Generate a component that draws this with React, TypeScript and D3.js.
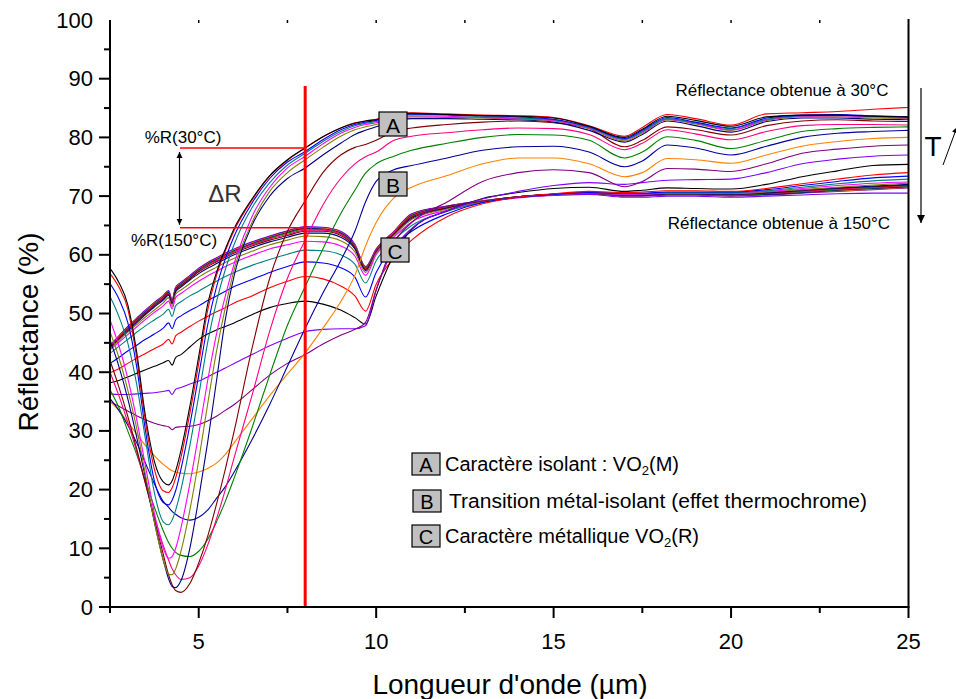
import React from "react";
import * as d3 from "d3";

// Wavelength grid (µm)
const wavelengths = [2.5, 2.75, 3, 3.25, 3.5, 3.75, 4, 4.15, 4.25, 4.35, 4.5, 4.75, 5, 5.25, 5.5, 5.75, 6, 6.5, 7, 7.5, 8, 8.5, 9, 9.4, 9.7, 10, 10.5, 11, 12, 13, 14, 15, 16, 17, 17.5, 18.2, 19, 20, 21, 22, 23, 24, 25];

// Reflectance (%) per temperature step (30°C -> 150°C)
const s01 = [57.7, 55.3, 51.5, 43.5, 32.5, 24.8, 21.3, 20.8, 21.5, 23.2, 26.7, 34.2, 42.7, 51.5, 57, 61, 64.5, 69.5, 73.5, 76.2, 78.2, 80.1, 81.6, 82.4, 82.8, 83, 83.9, 84.1, 83.9, 83.7, 83.6, 83.3, 81.9, 80, 81.4, 83.6, 82.9, 81.9, 83.5, 83.8, 83.8, 83.6, 83.5];
const s02 = [56.8, 54.5, 50.8, 42.5, 31.5, 23.5, 19.8, 19.5, 20.3, 22, 25.5, 33, 41.5, 50.5, 56.5, 60.7, 64.2, 69.3, 73.4, 76.1, 78.2, 80.1, 81.6, 82.5, 82.8, 83.1, 84, 84.2, 84, 83.8, 83.7, 83.4, 82, 80.2, 81.7, 83.9, 83.2, 82.1, 84, 84.2, 84.4, 84.8, 85.1];
const s03 = [55.1, 52.5, 48.5, 41, 30, 21.5, 17.8, 17.4, 18.2, 19.8, 23.5, 31, 39.5, 48, 54.5, 59.3, 63.2, 68.8, 73, 75.8, 77.6, 79.6, 81.3, 82.2, 82.6, 82.9, 83.8, 84, 83.9, 83.7, 83.5, 83.1, 81.8, 79.8, 81.2, 83.4, 82.6, 81.6, 83.3, 83.8, 83.9, 83.7, 83.5];
const s04 = [52.9, 49.5, 45, 38, 28.5, 19.5, 14.5, 14, 14.8, 16.5, 20, 27.5, 36, 45, 52, 57.5, 61.8, 68, 72.3, 75.3, 77.3, 79.3, 81, 82, 82.4, 82.7, 83.6, 83.9, 83.8, 83.5, 83.3, 83, 81.7, 79.7, 81, 83.2, 82.5, 81.5, 83.1, 83.7, 83.8, 83.6, 83.4];
const s05 = [48.9, 44.5, 39, 32, 24, 16, 10, 8.3, 8.6, 10, 13.5, 21, 29.5, 38.5, 46.5, 53, 58.5, 66.5, 71.5, 74.8, 76.8, 78.9, 80.7, 81.7, 82.2, 82.5, 83.4, 83.7, 83.6, 83.4, 83.2, 82.9, 81.6, 79.6, 80.9, 83.1, 82.4, 81.3, 83, 83.6, 83.7, 83.5, 83.3];
const s06 = [46.9, 42.5, 37, 30.5, 22.5, 14.5, 8, 5.6, 5.5, 6.5, 9.5, 16.5, 25, 34.5, 43.5, 51, 57.5, 65.5, 70.8, 74, 76.2, 78.3, 80.2, 81.3, 81.8, 82.2, 83.2, 83.5, 83.4, 83.3, 83.1, 82.8, 81.5, 79.4, 80.7, 83, 82.3, 81.2, 82.9, 83.5, 83.5, 83.3, 83.2];
const s07 = [45.5, 41, 35.5, 29, 22, 14.5, 8, 4.8, 3.5, 3.3, 4.5, 10, 18.5, 28, 38.5, 49, 56.5, 65, 70, 73, 74.8, 77, 79, 80.5, 81.2, 81.8, 82.8, 83.2, 83.2, 83.1, 83, 82.6, 81.2, 79.2, 80.5, 82.8, 82, 80.9, 82.7, 83.3, 83.3, 83.1, 83];
const s08 = [42, 37.5, 32.5, 27, 21, 15, 9, 5.5, 3.8, 2.8, 2.5, 4, 7.5, 12, 17.5, 23.5, 30, 44, 56, 64, 69.2, 74, 77, 78.3, 78.8, 79.5, 81, 81.6, 82.2, 82.6, 82.8, 82.5, 81.5, 78.4, 79.5, 81.8, 81.3, 80.4, 82, 82.8, 83, 82.8, 82.7];
const s09 = [40, 36, 31.5, 26.5, 21, 15.5, 10.5, 8, 6.5, 5.5, 4.7, 5, 7, 10.5, 15, 20, 25.5, 36, 47, 56, 62.5, 68.5, 73, 75.5, 76.7, 77.5, 79.5, 80.2, 80.8, 81.3, 81.6, 81.5, 80.5, 77.9, 79, 81.3, 80.6, 79.6, 81, 82, 82.2, 82.2, 82.1];
const s10 = [37, 34, 30, 26, 21.5, 17, 13, 11, 10, 9.3, 8.8, 8.6, 9.5, 11.5, 14.5, 18, 22, 30.5, 39.5, 48, 54.6, 61, 67, 71, 73.9, 75.5, 76.8, 77.8, 79, 80, 80.5, 80.4, 79.5, 76.5, 77.5, 80.1, 79.5, 78.1, 79.5, 81, 81.5, 81.7, 81.8];
const s11 = [35.5, 33.5, 31, 28, 24.5, 21, 18, 17, 16.3, 15.8, 15.2, 14.8, 15.3, 16.5, 18.5, 20.5, 23, 28.5, 34.5, 41, 47.5, 53.5, 59, 64, 69, 72.5, 74.5, 75.2, 76.5, 77.8, 78.4, 78.5, 77.5, 75, 76, 78.7, 78.2, 77, 78.5, 80, 80.7, 81, 81.2];
const s12 = [35, 33.5, 31.5, 29.5, 27.5, 25.8, 24.3, 23.6, 23.2, 23, 22.8, 22.7, 23, 23.6, 24.5, 26, 28, 32, 36, 39.7, 43.3, 47.5, 52, 56.5, 61.5, 65.5, 69.7, 71.5, 73.5, 75.5, 76.5, 76.5, 75.5, 73.3, 74, 76.4, 76.2, 75.6, 77, 78.5, 79.3, 79.8, 80];
const s13 = [35, 34.2, 33.4, 32.6, 31.9, 31.3, 30.9, 30.7, 30.2, 30.6, 30.7, 30.8, 31.1, 31.7, 32.5, 33.5, 34.5, 37, 39.5, 41.5, 43, 44.8, 46.3, 47.3, 48.5, 54, 62, 65.5, 69, 72.5, 74, 74.5, 74, 71.6, 72.5, 74.7, 74.6, 74.2, 75.5, 77.3, 78, 78.5, 78.7];
const s14 = [36.3, 36.2, 36.2, 36.3, 36.4, 36.5, 36.7, 36.9, 36.2, 37.1, 37.4, 38, 38.5, 39.2, 40, 40.7, 41.5, 43, 44.5, 45.8, 46.9, 47.3, 47.4, 47.4, 47.9, 54, 61, 64.5, 67.5, 69.5, 70.8, 71.8, 72.3, 72, 72.3, 72.7, 72.8, 72.9, 74, 75.5, 76.3, 76.8, 77];
const s15 = [38.2, 38.6, 39.2, 39.8, 40.4, 41, 41.6, 42, 41.2, 42.5, 43, 44.3, 45.6, 46.5, 47.2, 47.8, 48.4, 49.8, 51, 51.7, 52.1, 51.6, 50.6, 49.3, 48.2, 53, 60, 64.3, 67.5, 69.6, 70.6, 71.3, 71.5, 70.8, 71, 71.4, 71.3, 71.2, 72, 73.3, 74.3, 75.2, 75.4];
const s16 = [39.9, 40.6, 41.5, 42.4, 43.2, 44, 44.8, 45.6, 44.8, 46.2, 46.8, 47.8, 48.7, 49.5, 50.3, 51, 51.8, 53, 54.4, 55.5, 56.3, 55.9, 54.7, 53, 50.4, 55, 59.5, 62.5, 66.5, 68.7, 69.8, 70.4, 70.8, 70.6, 70.7, 70.9, 70.9, 70.8, 71.3, 72.1, 72.9, 73.6, 74];
const s17 = [41.5, 42.5, 43.6, 44.6, 45.6, 46.5, 47.5, 48.4, 47.4, 48.9, 49.6, 50.5, 51.3, 52.2, 53, 53.8, 54.6, 55.8, 57, 58, 58.8, 58.6, 57.8, 56.2, 52.8, 57, 61.5, 64, 67, 68.9, 69.8, 70.3, 70.6, 70.5, 70.5, 70.7, 70.7, 70.7, 71.1, 71.8, 72.5, 73.1, 73.4];
const s18 = [43.2, 44.4, 45.6, 46.8, 47.9, 48.9, 49.9, 50.7, 49.5, 51.3, 52, 53, 53.8, 54.7, 55.5, 56.3, 57, 58.2, 59.2, 60.1, 60.8, 60.7, 60, 58.4, 55.2, 59, 62.5, 65, 67.4, 68.9, 69.8, 70.3, 70.6, 70.4, 70.4, 70.6, 70.6, 70.6, 70.9, 71.5, 72.1, 72.6, 72.9];
const s19 = [43.8, 45.1, 46.4, 47.7, 49, 50.2, 51.3, 52.1, 50.8, 52.7, 53.4, 54.5, 55.5, 56.4, 57.2, 58, 58.7, 59.9, 61, 61.7, 62.3, 62.2, 61.5, 59.8, 56.5, 60, 63, 65.6, 67.6, 68.9, 69.7, 70.2, 70.5, 70.3, 70.3, 70.5, 70.5, 70.5, 70.8, 71.3, 71.8, 72.2, 72.4];
const s20 = [44, 45.4, 46.8, 48.1, 49.4, 50.6, 51.8, 52.7, 51.2, 53.3, 54, 55.1, 56.2, 57.1, 57.9, 58.7, 59.4, 60.6, 61.7, 62.5, 63.2, 63.1, 62.4, 60.5, 57, 60.3, 63.3, 66, 67.8, 69, 69.8, 70.2, 70.5, 70.3, 70.3, 70.5, 70.5, 70.4, 70.7, 71.1, 71.5, 71.9, 72.2];
const s21 = [44.1, 45.6, 47, 48.4, 49.8, 51.1, 52.3, 53.1, 51.6, 53.7, 54.5, 55.7, 56.8, 57.7, 58.5, 59.3, 60, 61.2, 62.2, 63, 63.7, 63.7, 63, 61, 57.3, 60.4, 63.4, 66.2, 67.9, 69, 69.8, 70.2, 70.5, 70.2, 70.2, 70.4, 70.4, 70.3, 70.6, 71, 71.4, 71.7, 72];
const s22 = [44.2, 45.7, 47.2, 48.6, 50, 51.3, 52.5, 53.3, 51.8, 53.9, 54.7, 55.9, 57.1, 58, 58.8, 59.6, 60.3, 61.5, 62.5, 63.3, 64, 64, 63.3, 61.2, 57.5, 60.5, 63.5, 66.4, 68, 69.1, 69.9, 70.3, 70.5, 70.2, 70.2, 70.4, 70.4, 70.3, 70.5, 70.9, 71.3, 71.6, 71.9];
const s23 = [44.2, 45.8, 47.3, 48.7, 50.1, 51.4, 52.6, 53.4, 51.9, 54, 54.8, 56, 57.2, 58.2, 59, 59.8, 60.5, 61.7, 62.7, 63.5, 64.2, 64.2, 63.5, 61.3, 57.6, 60.6, 63.6, 66.5, 68.1, 69.1, 69.9, 70.3, 70.5, 70.2, 70.2, 70.4, 70.4, 70.3, 70.5, 70.8, 71.2, 71.5, 71.8];
const s24 = [44.3, 45.9, 47.4, 48.8, 50.2, 51.5, 52.7, 53.5, 52, 54.1, 54.9, 56.1, 57.3, 58.3, 59.1, 59.9, 60.6, 61.8, 62.8, 63.7, 64.4, 64.3, 63.6, 61.4, 57.7, 60.6, 63.6, 66.6, 68.1, 69.1, 69.9, 70.3, 70.5, 70.1, 70.1, 70.3, 70.3, 70.2, 70.4, 70.7, 71.1, 71.4, 71.7];
const s25 = [44.3, 45.9, 47.5, 48.9, 50.3, 51.6, 52.8, 53.6, 52.1, 54.2, 55, 56.2, 57.4, 58.4, 59.2, 60, 60.7, 61.9, 62.9, 63.8, 64.5, 64.4, 63.7, 61.5, 57.7, 60.7, 63.7, 66.7, 68.2, 69.1, 69.9, 70.3, 70.5, 70.1, 70.1, 70.3, 70.3, 70.2, 70.3, 70.6, 71, 71.3, 71.6];
const s26 = [44.4, 46, 47.6, 49, 50.4, 51.7, 52.9, 53.7, 52.2, 54.3, 55.1, 56.3, 57.5, 58.5, 59.3, 60.1, 60.8, 62, 63, 63.9, 64.6, 64.5, 63.8, 61.6, 57.8, 60.8, 63.8, 66.8, 68.2, 69.2, 69.9, 70.3, 70.5, 70.1, 70.1, 70.3, 70.3, 70.1, 70.3, 70.6, 70.9, 71.2, 71.5];
const s27 = [44.5, 46.1, 47.7, 49.1, 50.5, 51.8, 53, 53.8, 52.3, 54.4, 55.2, 56.4, 57.6, 58.6, 59.4, 60.2, 60.9, 62.1, 63.1, 64, 64.7, 64.6, 63.9, 61.7, 57.9, 60.9, 63.9, 66.9, 68.3, 69.2, 69.9, 70.3, 70.5, 70, 70, 70.2, 70.2, 70, 70.2, 70.5, 70.8, 71.1, 71.4];
const s28 = [44.6, 46.2, 47.8, 49.2, 50.6, 51.9, 53.1, 53.9, 52.4, 54.5, 55.3, 56.5, 57.7, 58.7, 59.5, 60.3, 61, 62.2, 63.2, 64.1, 64.8, 64.7, 64, 61.8, 58, 61, 64, 67, 68.3, 69.2, 69.8, 70.1, 70.3, 69.8, 69.8, 70, 70, 69.8, 70, 70.2, 70.4, 70.5, 70.5];

const seriesList = [s01, s02, s03, s04, s05, s06, s07, s08, s09, s10, s11, s12, s13, s14, s15, s16, s17, s18, s19, s20, s21, s22, s23, s24, s25, s26, s27, s28];

const palette = ["#000000", "#FF0000", "#0000FF", "#008080", "#FF00FF", "#808000", "#000080", "#800000", "#FF0080", "#008000", "#0000A0", "#FF8000", "#800080", "#8000FF"];

const xTicksMajor = [5, 10, 15, 20, 25];
const xTicksMinor = [2.5, 7.5, 12.5, 17.5, 22.5];
const yTicksMajor = [0, 10, 20, 30, 40, 50, 60, 70, 80, 90];
const yTicksMinor = [5, 15, 25, 35, 45, 55, 65, 75, 85, 95];
const yLabels = [0, 10, 20, 30, 40, 50, 60, 70, 80, 90, 100];

const markerWavelength = 8;
const r30 = 78.2;
const r150 = 64.6;

const FONT = "'Liberation Sans', Arial, Helvetica, sans-serif";

export default function App() {
  const W = 956, H = 699;
  const x = d3.scaleLinear().domain([2.5, 25]).range([110, 908.5]);
  const y = d3.scaleLinear().domain([0, 100]).range([607, 20]);

  const line = d3
    .line<[number, number]>()
    .x((d) => x(d[0]))
    .y((d) => y(d[1]))
    .curve(d3.curveMonotoneX);

  const paths = seriesList.map((s, i) => {
    const pts: [number, number][] = [];
    s.forEach((v, j) => {
      if (wavelengths[j] !== undefined) pts.push([wavelengths[j], v]);
    });
    return { d: line(pts) || "", color: palette[i % palette.length], i };
  });

  const xm = x(markerWavelength);
  const arrowX = 179.5;

  const letterBox = (bx: number, by: number, letter: string, w = 28, h = 24, fs = 21) => (
    <g>
      <rect x={bx} y={by} width={w} height={h} fill="#C0C0C0" stroke="#000" strokeWidth={1.2} />
      <text x={bx + w / 2} y={by + h / 2 + 1} textAnchor="middle" dominantBaseline="central" fontSize={fs} fontFamily={FONT} fill="#000">
        {letter}
      </text>
    </g>
  );

  return (
    <svg width={W} height={H} style={{ position: "absolute", left: 0, top: 0, background: "#fff" }} xmlns="http://www.w3.org/2000/svg">
      <defs>
        <marker id="ah" viewBox="0 0 10 10" refX="10" refY="5" markerWidth="6" markerHeight="9" orient="auto-start-reverse" markerUnits="userSpaceOnUse">
          <path d="M0,0 L10,5 L0,10 z" fill="#000" />
        </marker>
        <marker id="ahBig" viewBox="0 0 10 10" refX="10" refY="5" markerWidth="16" markerHeight="8" orient="auto" markerUnits="userSpaceOnUse">
          <path d="M0,0 L10,5 L0,10 z" fill="#000" />
        </marker>
        <marker id="ahSmall" viewBox="0 0 10 10" refX="10" refY="5" markerWidth="9" markerHeight="6" orient="auto" markerUnits="userSpaceOnUse">
          <path d="M0,0 L10,5 L0,10 z" fill="#000" />
        </marker>
        <clipPath id="plot">
          <rect x={110} y={20} width={798.5} height={587} />
        </clipPath>
      </defs>

      {/* data curves */}
      <g clipPath="url(#plot)" fill="none">
        {paths
          .slice()
          .reverse()
          .map((p) => (
            <path key={p.i} d={p.d} stroke={p.color} strokeWidth={1.1} />
          ))}
      </g>

      {/* axes */}
      <g stroke="#000" fill="none">
        <line x1={110} y1={20} x2={110} y2={607.5} strokeWidth={2} />
        <line x1={109} y1={607} x2={909.5} y2={607} strokeWidth={2} />
        <line x1={908.5} y1={19} x2={908.5} y2={607} strokeWidth={2} />
        {yTicksMajor.map((v) => (
          <line key={"ym" + v} x1={99} x2={110} y1={y(v)} y2={y(v)} strokeWidth={2} />
        ))}
        {yTicksMinor.map((v) => (
          <line key={"yn" + v} x1={104} x2={110} y1={y(v)} y2={y(v)} strokeWidth={2} />
        ))}
        {xTicksMajor.map((v) => (
          <line key={"xm" + v} x1={x(v)} x2={x(v)} y1={607} y2={618} strokeWidth={2} />
        ))}
        {xTicksMinor.map((v) => (
          <line key={"xn" + v} x1={x(v)} x2={x(v)} y1={607} y2={613} strokeWidth={2} />
        ))}
        {[...xTicksMajor.slice(0, 4), ...xTicksMinor.slice(1)].map((v) => (
          <line key={"xt" + v} x1={x(v)} x2={x(v)} y1={20} y2={23} strokeWidth={1.5} />
        ))}
      </g>

      {/* tick labels */}
      <g fontFamily={FONT} fontSize={22} fill="#000">
        {yLabels.map((v) => (
          <text key={"yl" + v} x={93} y={y(v)} textAnchor="end" dominantBaseline="central">
            {v}
          </text>
        ))}
        {xTicksMajor.map((v) => (
          <text key={"xl" + v} x={x(v)} y={641} textAnchor="middle" dominantBaseline="central">
            {v}
          </text>
        ))}
      </g>

      {/* axis titles */}
      <text x={510} y={684} textAnchor="middle" dominantBaseline="central" fontFamily={FONT} fontSize={28} fill="#000">
        Longueur d'onde (µm)
      </text>
      <text transform="translate(28,332) rotate(-90)" textAnchor="middle" dominantBaseline="central" fontFamily={FONT} fontSize={28} fill="#000">
        Réflectance (%)
      </text>

      {/* Delta R annotation */}
      <line x1={180} x2={xm} y1={y(r30)} y2={y(r30)} stroke="#FF0000" strokeWidth={1.5} />
      <line x1={180} x2={xm} y1={y(r150)} y2={y(r150)} stroke="#FF0000" strokeWidth={1.5} />
      <line x1={xm} x2={xm} y1={86} y2={606} stroke="#FF0000" strokeWidth={3} />
      <line x1={arrowX} x2={arrowX} y1={y(r30) + 4} y2={y(r150) - 3} stroke="#000" strokeWidth={1.2} markerStart="url(#ah)" markerEnd="url(#ah)" />
      <text x={183} y={137} textAnchor="middle" dominantBaseline="central" fontFamily={FONT} fontSize={17} fill="#000">
        %R(30°C)
      </text>
      <text x={174} y={240} textAnchor="middle" dominantBaseline="central" fontFamily={FONT} fontSize={17} fill="#000">
        %R(150°C)
      </text>
      <text x={225} y={193} textAnchor="middle" dominantBaseline="central" fontFamily={FONT} fontSize={24} fill="#333">
        ΔR
      </text>

      {/* A B C markers on curves */}
      {letterBox(379, 112, "A")}
      {letterBox(379, 172, "B")}
      {letterBox(381, 238, "C")}

      {/* right annotations */}
      <text x={782} y={90} textAnchor="middle" dominantBaseline="central" fontFamily={FONT} fontSize={17} fill="#000">
        Réflectance obtenue à 30°C
      </text>
      <text x={779} y={223} textAnchor="middle" dominantBaseline="central" fontFamily={FONT} fontSize={17} fill="#000">
        Réflectance obtenue à 150°C
      </text>
      <line x1={921} x2={921} y1={88} y2={223} stroke="#000" strokeWidth={1.2} markerEnd="url(#ahBig)" />
      <text x={933} y={146} textAnchor="middle" dominantBaseline="central" fontFamily={FONT} fontSize={28} fill="#000">
        T
      </text>
      <line x1={943} x2={957} y1={165} y2={127} stroke="#000" strokeWidth={1} markerEnd="url(#ahSmall)" />

      {/* legend */}
      {letterBox(412, 453, "A", 28, 22, 20)}
      {letterBox(413, 490, "B", 28, 22, 20)}
      {letterBox(412, 525, "C", 28, 22, 20)}
      <g fontFamily={FONT} fontSize={20} fill="#000">
        <text x={445} y={464} dominantBaseline="central">
          Caractère isolant : VO<tspan fontSize={13} dy={6}>2</tspan><tspan dy={-6}>(M)</tspan>
        </text>
        <text x={449} y={501} dominantBaseline="central" textLength={418} lengthAdjust="spacingAndGlyphs">
          Transition métal-isolant (effet thermochrome)
        </text>
        <text x={445} y={536} dominantBaseline="central">
          Caractère métallique VO<tspan fontSize={13} dy={6}>2</tspan><tspan dy={-6}>(R)</tspan>
        </text>
      </g>
    </svg>
  );
}
